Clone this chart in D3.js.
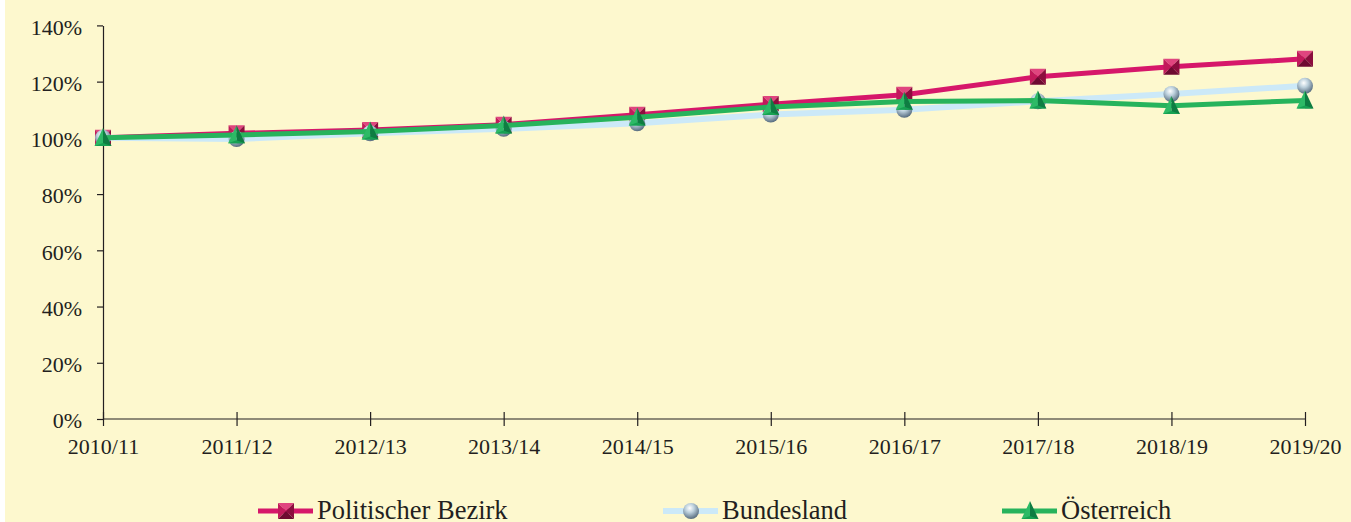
<!DOCTYPE html>
<html>
<head>
<meta charset="utf-8">
<script src="https://cdn.jsdelivr.net/npm/d3@7"></script>
<style>
  body { margin: 0; background: #fff; }
  svg { display: block; font-family: "Liberation Serif", "Times New Roman", serif; }
  .axis text { fill: #231f20; font-size: 22px; font-family: "Liberation Serif", "Times New Roman", serif; }
  .axis path, .axis line { stroke: #231f20; stroke-width: 1.2; }
  .legend text { fill: #231f20; font-size: 26.5px; }
</style>
</head>
<body>
<div id="chart"></div>
<script>
// ── Data ─────────────────────────────────────────────────────
const years = ["2010/11", "2011/12", "2012/13", "2013/14", "2014/15",
               "2015/16", "2016/17", "2017/18", "2018/19", "2019/20"];
const bezirk      = [100, 101.6, 102.8, 104.7, 108.2, 112.0, 115.3, 121.7, 125.3, 128.1];
const bundesland  = [100,  99.6, 101.6, 103.2, 105.2, 108.3, 110.0, 113.0, 115.6, 118.5];
const oesterreich = [100, 101.0, 102.3, 104.4, 107.3, 111.0, 112.9, 113.3, 111.4, 113.3];
const yTicks = [0, 20, 40, 60, 80, 100, 120, 140];
const seriesNames = ["Politischer Bezirk", "Bundesland", "Österreich"];

// ── Layout ───────────────────────────────────────────────────
const W = 1351, H = 522;
const X0 = 103, X1 = 1305, Y0 = 419, Y1 = 25.4;

const svg = d3.select("#chart").append("svg").attr("width", W).attr("height", H);
svg.append("rect").attr("x", 5).attr("y", 0).attr("width", W - 5).attr("height", H)
  .attr("fill", "#fdf8ce");

// ── Gradients for the 3D-ish markers ─────────────────────────
const defs = svg.append("defs");
const sph = defs.append("radialGradient").attr("id", "sphere")
  .attr("cx", "42%").attr("cy", "32%").attr("r", "70%");
sph.append("stop").attr("offset", "0%").attr("stop-color", "#ffffff");
sph.append("stop").attr("offset", "40%").attr("stop-color", "#bcd0dc");
sph.append("stop").attr("offset", "100%").attr("stop-color", "#52677a");

// ── Scales ───────────────────────────────────────────────────
const x = d3.scalePoint().domain(years).range([X0, X1]);
const y = d3.scaleLinear().domain([0, 140]).range([Y0, Y1]);

// ── Axes ─────────────────────────────────────────────────────
const yAxisG = svg.append("g").attr("class", "axis")
  .attr("transform", `translate(${X0},0)`)
  .call(d3.axisLeft(y).tickValues(yTicks).tickSize(6).tickSizeOuter(0)
    .tickPadding(15).tickFormat(d => d + "%"));
yAxisG.attr("font-family", null);
yAxisG.selectAll("text").attr("dy", "0.4em");

const xAxisG = svg.append("g").attr("class", "axis")
  .attr("transform", `translate(0,${Y0})`)
  .call(d3.axisBottom(x).tickSizeOuter(0));
xAxisG.attr("font-family", null);
xAxisG.selectAll(".tick line").attr("y1", -7).attr("y2", 7);
xAxisG.selectAll(".tick text").attr("y", 35).attr("dy", 0);
xAxisG.select(".domain").attr("d", `M${X0},0H${X1}`);

// ── Marker painters ──────────────────────────────────────────
function pyramidSquare(g, cx, cy, s) {
  const h = s / 2;
  const faces = [
    { pts: [[-h, -h], [h, -h], [0, 0]], c: "#e0457f" },  // top
    { pts: [[-h, -h], [-h, h], [0, 0]], c: "#c21a5b" },  // left
    { pts: [[h, -h], [h, h], [0, 0]],   c: "#8c0d3e" },  // right
    { pts: [[-h, h], [h, h], [0, 0]],   c: "#6e0a31" }   // bottom
  ];
  faces.forEach(f => {
    g.append("path")
      .attr("d", d3.line()(f.pts.map(p => [cx + p[0], cy + p[1]])) + "Z")
      .attr("fill", f.c);
  });
}
function sphere(g, cx, cy, r) {
  g.append("circle").attr("cx", cx).attr("cy", cy).attr("r", r).attr("fill", "url(#sphere)");
}
function pyramidTri(g, cx, cy, w, hgt) {
  const top = cy - hgt * 0.55, bot = cy + hgt * 0.45, hw = w / 2;
  g.append("path").attr("d", d3.line()([[cx, top], [cx - hw, bot], [cx, bot]]) + "Z")
    .attr("fill", "#2dba66");
  g.append("path").attr("d", d3.line()([[cx, top], [cx + hw, bot], [cx, bot]]) + "Z")
    .attr("fill", "#0e7d42");
  g.append("path").attr("d", d3.line()([[cx - hw, bot], [cx + hw, bot], [cx, bot - 3]]) + "Z")
    .attr("fill", "#17a152");
}

const SERIES = [
  { name: seriesNames[0], values: bezirk,      color: "#d6176a", width: 5, marker: (g, cx, cy) => pyramidSquare(g, cx, cy, 16) },
  { name: seriesNames[1], values: bundesland,  color: "#cce9f8", width: 6, marker: (g, cx, cy) => sphere(g, cx, cy, 8) },
  { name: seriesNames[2], values: oesterreich, color: "#27b35c", width: 5, marker: (g, cx, cy) => pyramidTri(g, cx, cy, 17, 18) }
];

const line = d3.line().x((d, i) => x(years[i])).y(d => y(d));

// ── Lines + markers ──────────────────────────────────────────
SERIES.forEach(s => {
  const g = svg.append("g");
  g.append("path").attr("d", line(s.values))
    .attr("fill", "none").attr("stroke", s.color)
    .attr("stroke-width", s.width).attr("stroke-linejoin", "round");
  s.values.forEach((v, i) => s.marker(g, x(years[i]), y(v)));
});

// ── Legend ───────────────────────────────────────────────────
const legendX = [258, 663, 1002];
const legendY = 511;
const legend = svg.append("g").attr("class", "legend");
SERIES.forEach((s, i) => {
  const g = legend.append("g");
  const lx = legendX[i];
  g.append("line").attr("x1", lx).attr("x2", lx + 55)
    .attr("y1", legendY).attr("y2", legendY)
    .attr("stroke", s.color).attr("stroke-width", s.width);
  s.marker(g, lx + 28, legendY);
  g.append("text").attr("x", lx + 59).attr("y", 519).text(s.name);
});
</script>
</body>
</html>
